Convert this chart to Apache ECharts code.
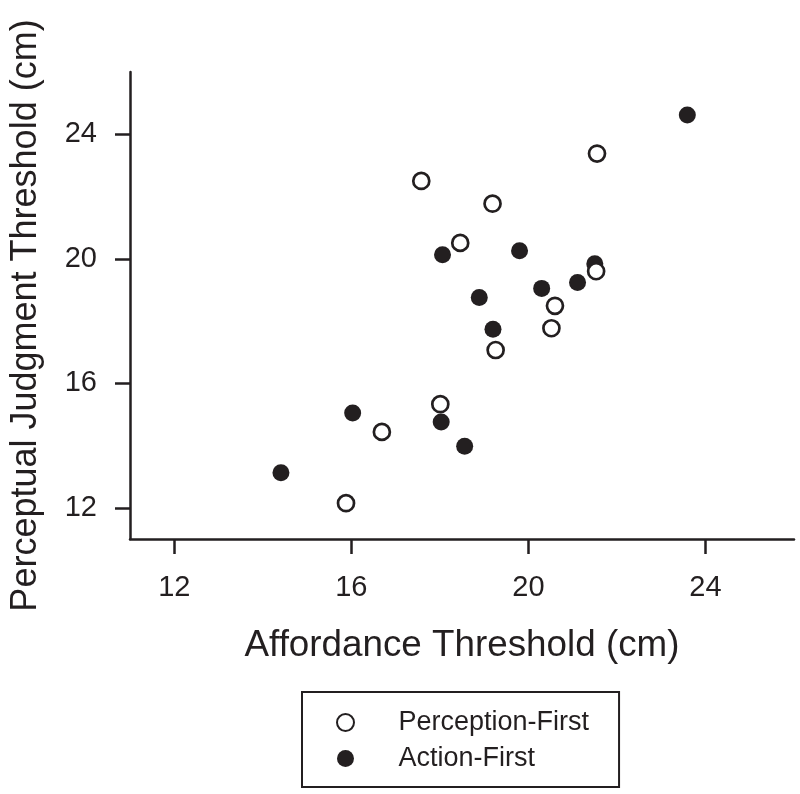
<!DOCTYPE html>
<html>
<head>
<meta charset="utf-8">
<script src="https://cdn.jsdelivr.net/npm/echarts@6/dist/echarts.min.js"></script>
<style>html,body{margin:0;padding:0;background:#fff}#c{width:800px;height:794px}</style>
</head>
<body>
<div id="c"></div>
<script>
// Perception-First (open circles): [affordance, perceptual judgment]
const perceptionFirstX = [17.58, 19.19, 21.55, 18.46, 21.53, 20.60, 20.52, 19.26, 18.01, 16.69, 15.88];
const perceptionFirstY = [22.50, 21.77, 23.38, 20.51, 19.60, 18.49, 17.77, 17.07, 15.33, 14.44, 12.15];
// Action-First (filled circles)
const actionFirstX = [23.59, 18.06, 19.80, 21.50, 21.11, 20.30, 18.89, 19.20, 16.03, 18.03, 18.56, 14.41];
const actionFirstY = [24.62, 20.13, 20.26, 19.84, 19.24, 19.05, 18.76, 17.74, 15.05, 14.76, 13.98, 13.13];
const xTicks = [12, 16, 20, 24];
const yTicks = [12, 16, 20, 24];
const seriesNames = ['Perception-First', 'Action-First'];
const xTitle = 'Affordance Threshold (cm)';
const yTitle = 'Perceptual Judgment Threshold (cm)';

const FONT = '"Liberation Sans", Arial, Helvetica, sans-serif';
const INK = '#231f20';

function pairs(xs, ys) { return xs.map((x, i) => [x, ys[i]]); }

const axisCommon = {
  type: 'value',
  min: 11, max: 26,
  nameLocation: 'middle',
  axisLine: { show: true, lineStyle: { color: INK, width: 2.5 } },
  axisTick: { show: true, length: 15, lineStyle: { color: INK, width: 2.5 } },
  splitLine: { show: false },
};

const chart = echarts.init(document.getElementById('c'), null, { renderer: 'canvas' });
chart.setOption({
  backgroundColor: '#fff',
  animation: false,
  grid: { left: 128, right: 6, top: 72, bottom: 255, containLabel: false },
  xAxis: Object.assign({}, axisCommon, {
    name: xTitle,
    nameGap: 88,
    nameTextStyle: { fontFamily: FONT, fontSize: 36.8, color: INK },
    axisTick: Object.assign({}, axisCommon.axisTick, { customValues: xTicks }),
    axisLabel: { customValues: xTicks, fontFamily: FONT, fontSize: 29, color: INK, margin: 34 }
  }),
  yAxis: Object.assign({}, axisCommon, {
    name: yTitle,
    nameGap: 86,
    nameTextStyle: { fontFamily: FONT, fontSize: 36, color: INK, padding: [0, 20, 0, 0] },
    axisTick: Object.assign({}, axisCommon.axisTick, { customValues: yTicks }),
    axisLabel: { customValues: yTicks, fontFamily: FONT, fontSize: 29, color: INK, margin: 33 }
  }),
  legend: {
    orient: 'vertical',
    left: 302, top: 692,
    data: seriesNames,
    borderColor: INK, borderWidth: 2,
    padding: [17, 30, 15, 34],
    itemWidth: 48, itemHeight: 17, itemGap: 9,
    textStyle: { fontFamily: FONT, fontSize: 27, color: INK, lineHeight: 27, padding: [0, 0, 0, 24] }
  },
  series: [
    {
      name: seriesNames[1], type: 'scatter', symbol: 'circle', symbolSize: 17,
      itemStyle: { color: INK, opacity: 1 },
      data: pairs(actionFirstX, actionFirstY)
    },
    {
      name: seriesNames[0], type: 'scatter', symbol: 'circle', symbolSize: 16,
      itemStyle: { color: '#fff', borderColor: INK, borderWidth: 2.7, opacity: 1 },
      data: pairs(perceptionFirstX, perceptionFirstY)
    }
  ]
});
</script>
</body>
</html>
